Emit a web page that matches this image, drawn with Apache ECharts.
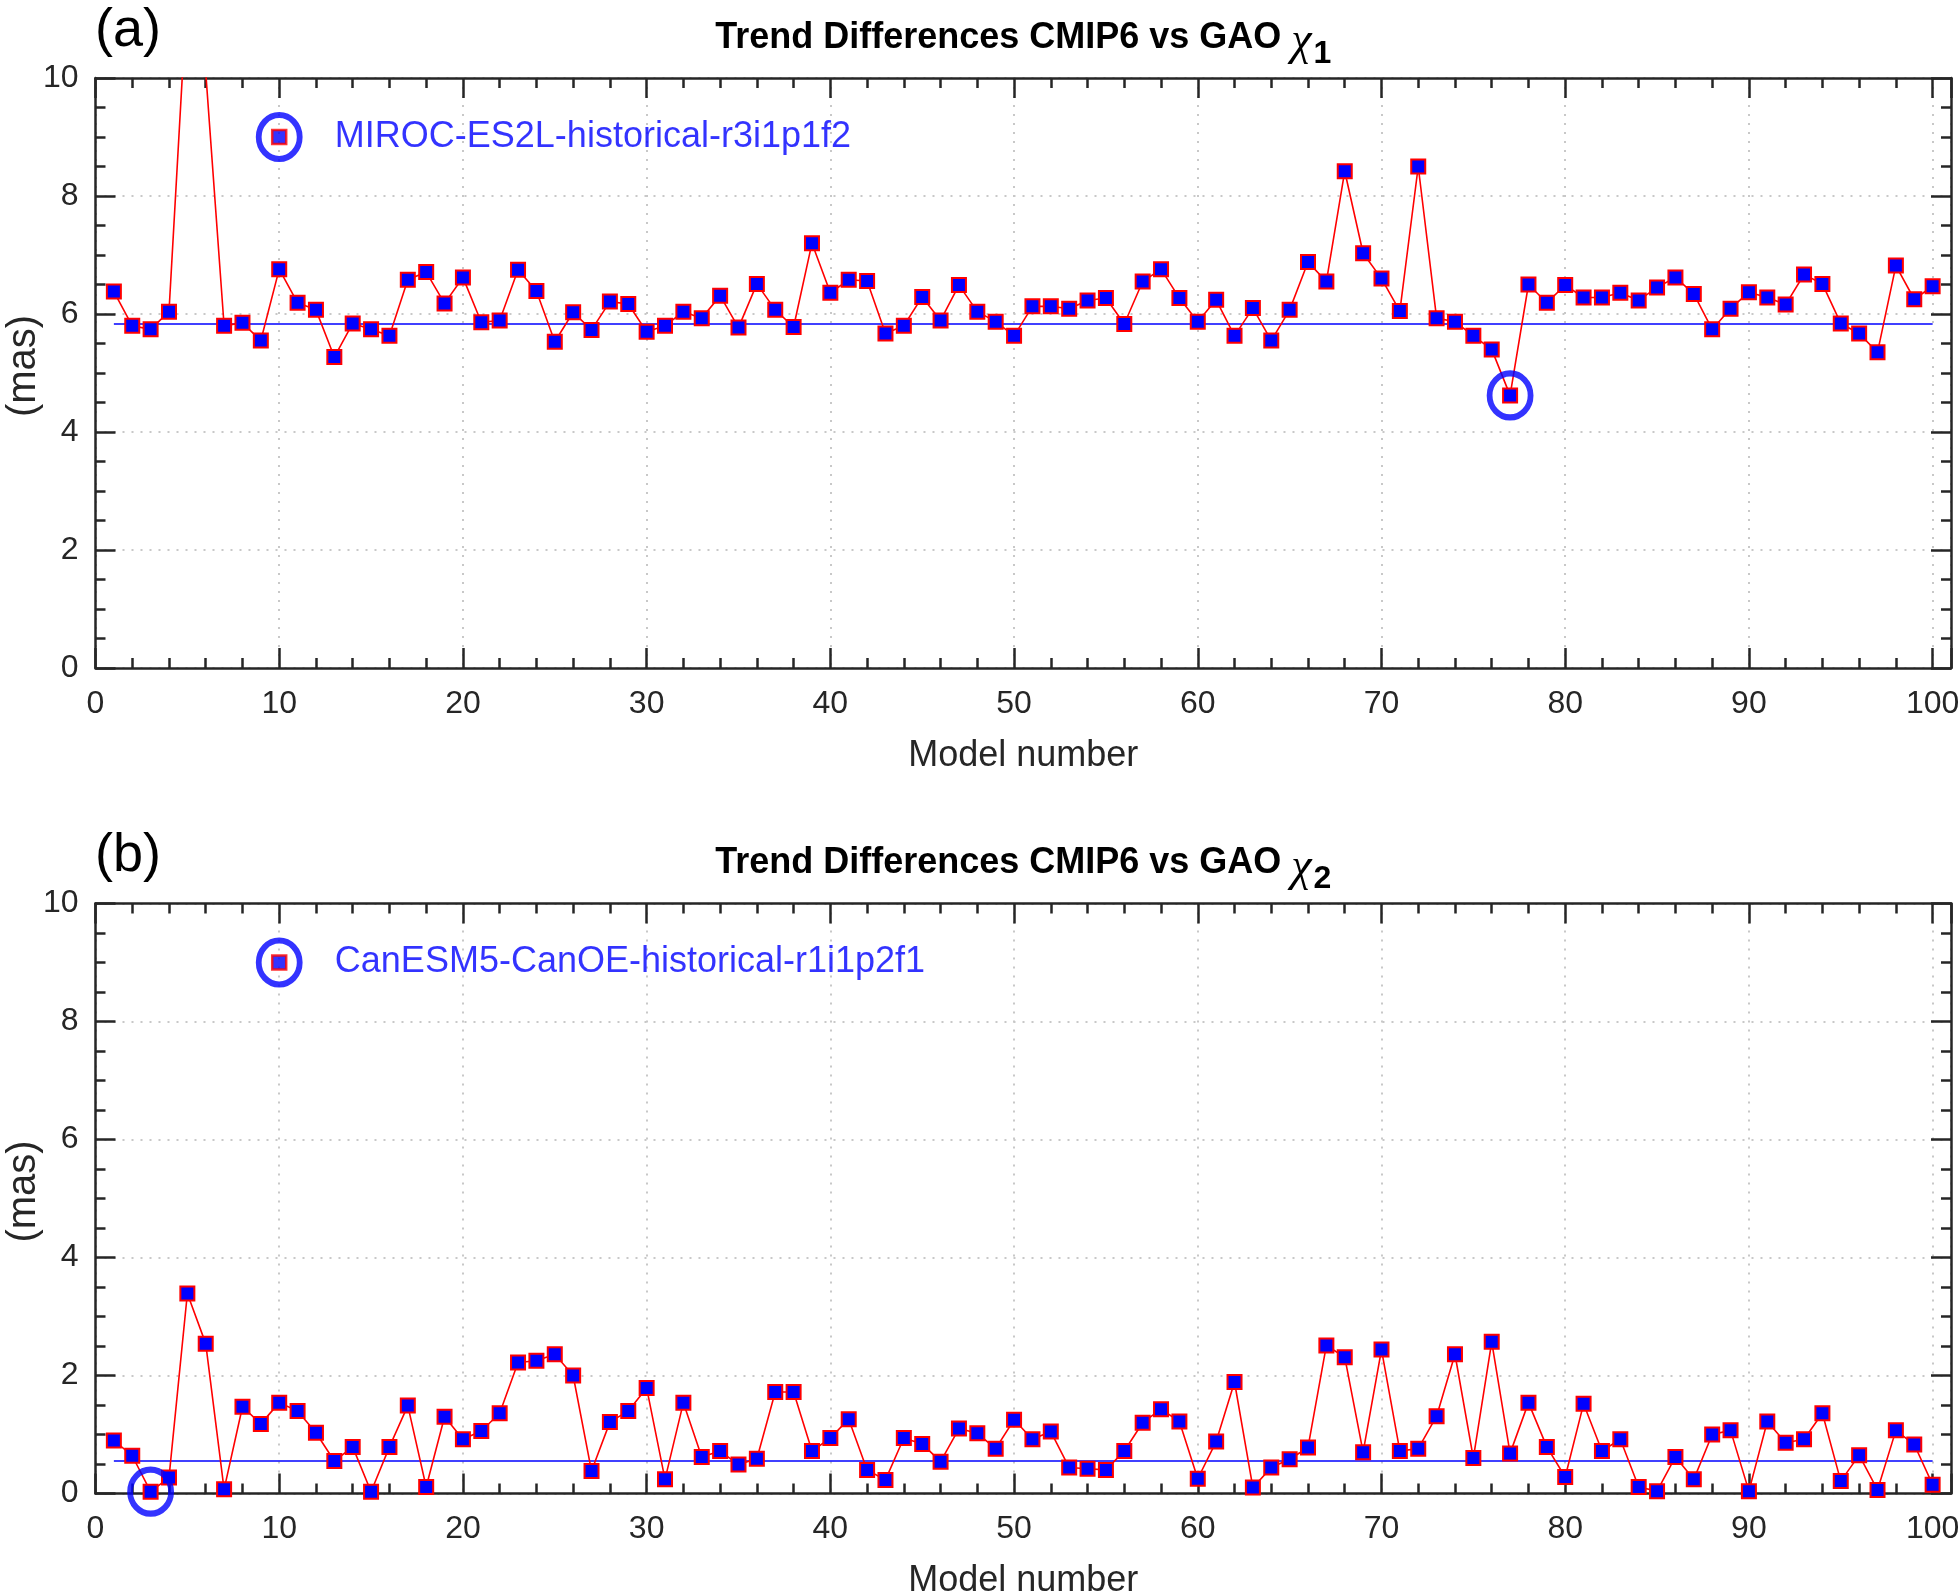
<!DOCTYPE html>
<html><head><meta charset="utf-8">
<script src="https://cdn.jsdelivr.net/npm/echarts@6/dist/echarts.min.js"></script>
<style>html,body{margin:0;padding:0;background:#fff}#chart{width:1959px;height:1594px}</style>
</head><body><div id="chart"></div>
<script>
// ---------------- data ----------------
const modelNumbers = [1,2,3,4,5,6,7,8,9,10,11,12,13,14,15,16,17,18,19,20,21,22,23,24,25,26,27,28,29,30,31,32,33,34,35,36,37,38,39,40,41,42,43,44,45,46,47,48,49,50,51,52,53,54,55,56,57,58,59,60,61,62,63,64,65,66,67,68,69,70,71,72,73,74,75,76,77,78,79,80,81,82,83,84,85,86,87,88,89,90,91,92,93,94,95,96,97,98,99,100];
const chi1Diff = [6.38,5.80,5.74,6.04,11.54,10.10,5.80,5.85,5.55,6.76,6.19,6.07,5.27,5.84,5.74,5.63,6.58,6.71,6.18,6.62,5.86,5.89,6.75,6.39,5.53,6.03,5.73,6.21,6.17,5.70,5.80,6.04,5.93,6.31,5.77,6.51,6.07,5.78,7.20,6.36,6.58,6.56,5.67,5.80,6.29,5.89,6.49,6.04,5.87,5.63,6.13,6.13,6.09,6.23,6.27,5.83,6.55,6.76,6.27,5.87,6.24,5.63,6.10,5.55,6.07,6.88,6.55,8.42,7.03,6.60,6.05,8.50,5.93,5.87,5.63,5.40,4.62,6.50,6.19,6.49,6.28,6.28,6.36,6.23,6.45,6.62,6.34,5.74,6.09,6.37,6.28,6.16,6.67,6.51,5.84,5.67,5.35,6.82,6.25,6.47];
const chi2Diff = [0.90,0.64,0.03,0.27,3.39,2.54,0.07,1.47,1.18,1.54,1.40,1.03,0.55,0.79,0.03,0.79,1.49,0.11,1.30,0.92,1.06,1.36,2.22,2.25,2.36,2.00,0.38,1.21,1.40,1.79,0.24,1.54,0.62,0.72,0.49,0.59,1.72,1.72,0.72,0.94,1.26,0.40,0.23,0.94,0.84,0.54,1.10,1.02,0.76,1.25,0.92,1.05,0.44,0.42,0.40,0.72,1.20,1.43,1.22,0.25,0.88,1.89,0.10,0.44,0.58,0.78,2.51,2.31,0.70,2.44,0.72,0.76,1.31,2.36,0.60,2.57,0.68,1.54,0.79,0.28,1.52,0.72,0.92,0.11,0.04,0.62,0.24,1.00,1.07,0.04,1.22,0.86,0.92,1.36,0.21,0.65,0.06,1.07,0.83,0.15];
const chi1Ref = 5.83;
const chi2Ref = 0.55;
const highlightedModels = [77, 3];
const highlightedNames = ['MIROC-ES2L-historical-r3i1p1f2', 'CanESM5-CanOE-historical-r1i1p2f1'];
const keyMarkerPos = [10, 9];
const keyTextPos = [13, 9];
const panelLetters = ['(a)', '(b)'];
const panelSubscripts = ['1', '2'];
const titleMain = 'Trend Differences CMIP6 vs GAO ';
const xTickMax = 100;
const xLimit = [0, 101];
const yLimit = [0, 10];
const xLabel = 'Model number';
const yLabel = '(mas)';

// ---------------- layout / style ----------------
const FONT = '"Liberation Sans", Arial, Helvetica, sans-serif';
const AX = '#262626';
const RED = '#FF0000', BLUE = '#0000FF';
const GRID_LEFT = 95.5, GRID_RIGHT = 8, GRID_H = 590;
const gridTops = [78, 903.5];

const chart = echarts.init(document.getElementById('chart'), null, {renderer: 'canvas', width: 1959, height: 1594});

const grids = [], xAxes = [], yAxes = [], series = [], graphics = [];
const panels = [
  {values: chi1Diff, ref: chi1Ref},
  {values: chi2Diff, ref: chi2Ref}
];

const tickLine = {color: AX, width: 2.5};
const gridLine = {color: '#c8c8c8', width: 2, type: [2, 7]};

panels.forEach((p, gi) => {
  grids.push({left: GRID_LEFT, right: GRID_RIGHT, top: gridTops[gi], height: GRID_H,
    containLabel: false, outerBoundsMode: 'none'});
  const xBase = {gridIndex: gi, type: 'value', min: xLimit[0], max: xLimit[1]};
  xAxes.push(Object.assign({}, xBase, {
    position: 'bottom', interval: 10,
    axisLine: {show: true, onZero: false, lineStyle: {color: AX, width: 2.5}},
    axisTick: {show: true, inside: true, length: 20, lineStyle: tickLine},
    axisLabel: {show: true, color: AX, fontSize: 32, fontFamily: FONT, margin: 20,
      formatter: v => (v > xTickMax ? '' : String(v))},
    splitLine: {show: true, lineStyle: gridLine},
    name: xLabel, nameLocation: 'middle', nameGap: 70, nameMoveOverlap: false,
    nameTextStyle: {color: AX, fontSize: 36, fontFamily: FONT}
  }));
  xAxes.push(Object.assign({}, xBase, {
    position: 'bottom', interval: 2,
    axisLine: {show: false, onZero: false},
    axisTick: {show: true, inside: true, length: 10, lineStyle: tickLine},
    axisLabel: {show: false}, splitLine: {show: false}
  }));
  xAxes.push(Object.assign({}, xBase, {
    position: 'top', interval: 10,
    axisLine: {show: true, onZero: false, lineStyle: {color: AX, width: 2.5}},
    axisTick: {show: true, inside: true, length: 20, lineStyle: tickLine},
    axisLabel: {show: false}, splitLine: {show: false}
  }));
  xAxes.push(Object.assign({}, xBase, {
    position: 'top', interval: 2,
    axisLine: {show: false, onZero: false},
    axisTick: {show: true, inside: true, length: 10, lineStyle: tickLine},
    axisLabel: {show: false}, splitLine: {show: false}
  }));
  const yBase = {gridIndex: gi, type: 'value', min: yLimit[0], max: yLimit[1], interval: 2,
    minorTick: {show: true, splitNumber: 4, length: 10, lineStyle: tickLine},
    axisTick: {show: true, inside: true, length: 20, lineStyle: tickLine},
    axisLine: {show: true, onZero: false, lineStyle: {color: AX, width: 2.5}}};
  yAxes.push(Object.assign({}, yBase, {
    position: 'left',
    axisLabel: {show: true, color: AX, fontSize: 32, fontFamily: FONT, margin: 17},
    splitLine: {show: true, lineStyle: gridLine},
    name: yLabel, nameLocation: 'middle', nameGap: 52, nameRotate: 90, nameMoveOverlap: false,
    nameTextStyle: {color: AX, fontSize: 40, fontFamily: FONT, padding: [0, 0, 0, 14]}
  }));
  yAxes.push(Object.assign({}, yBase, {
    position: 'right', axisLabel: {show: false}, splitLine: {show: false}
  }));

  const xi = gi * 4, yi = gi * 2;
  series.push({type: 'line', xAxisIndex: xi, yAxisIndex: yi, z: 2,
    data: [[modelNumbers[0], p.ref], [modelNumbers[modelNumbers.length - 1], p.ref]],
    symbol: 'none', lineStyle: {color: BLUE, width: 1.6}, silent: true});
  series.push({type: 'line', xAxisIndex: xi, yAxisIndex: yi, z: 3, clip: true,
    data: modelNumbers.map((m, i) => [m, p.values[i]]),
    symbol: 'rect', symbolSize: 14, showAllSymbol: true,
    itemStyle: {color: BLUE, borderColor: RED, borderWidth: 2},
    lineStyle: {color: RED, width: 1.6}, silent: true});
  const hm = highlightedModels[gi];
  series.push({type: 'scatter', xAxisIndex: xi, yAxisIndex: yi, z: 5, clip: false,
    data: [[hm, p.values[modelNumbers.indexOf(hm)]]],
    symbol: 'circle', symbolSize: [41, 44],
    itemStyle: {color: 'rgba(0,0,0,0)', borderColor: BLUE, borderWidth: 6}, silent: true});
  series.push({type: 'scatter', xAxisIndex: xi, yAxisIndex: yi, z: 5, clip: false,
    data: [keyMarkerPos], symbol: 'circle', symbolSize: [41, 44],
    itemStyle: {color: 'rgba(0,0,0,0)', borderColor: BLUE, borderWidth: 6}, silent: true});
  series.push({type: 'scatter', xAxisIndex: xi, yAxisIndex: yi, z: 6, clip: false,
    data: [keyMarkerPos], symbol: 'rect', symbolSize: 14,
    itemStyle: {color: BLUE, borderColor: RED, borderWidth: 2.5}, silent: true});
  series.push({type: 'scatter', xAxisIndex: xi, yAxisIndex: yi, z: 6, clip: false,
    data: [keyTextPos], symbol: 'circle', symbolSize: 1,
    itemStyle: {color: 'rgba(0,0,0,0)'},
    label: {show: true, position: 'right', distance: 0, formatter: highlightedNames[gi],
      color: BLUE, fontSize: 36, fontFamily: FONT}, silent: true});

  const top = gridTops[gi];
  graphics.push({type: 'text', left: 95, top: top - 74, z: 10,
    style: {text: panelLetters[gi], fontSize: 54, fontFamily: FONT, fill: '#000'}});
  graphics.push({type: 'text', x: GRID_LEFT + (1959 - GRID_RIGHT - GRID_LEFT) / 2, y: top - 31, z: 10,
    style: {
      text: '{t|' + titleMain + '}{c|χ}{s|' + panelSubscripts[gi] + '}',
      align: 'center', verticalAlign: 'middle',
      rich: {
        t: {fontSize: 36, fontWeight: 'bold', fontFamily: FONT, fill: '#000', verticalAlign: 'bottom', lineHeight: 40, padding: [0, 0, 14, 0]},
        c: {fontSize: 46, fontStyle: 'italic', fontFamily: '"Liberation Serif", "Times New Roman", serif', fill: '#000', verticalAlign: 'bottom', lineHeight: 46, padding: [0, 0, 5, 0]},
        s: {fontSize: 32, fontWeight: 'bold', fontFamily: FONT, fill: '#000', verticalAlign: 'bottom', lineHeight: 30, padding: [0, 0, 0, 2]}
      }
    }});
});

chart.setOption({
  animation: false,
  backgroundColor: '#ffffff',
  grid: grids,
  xAxis: xAxes,
  yAxis: yAxes,
  series: series,
  graphic: graphics
});
</script>
</body></html>
